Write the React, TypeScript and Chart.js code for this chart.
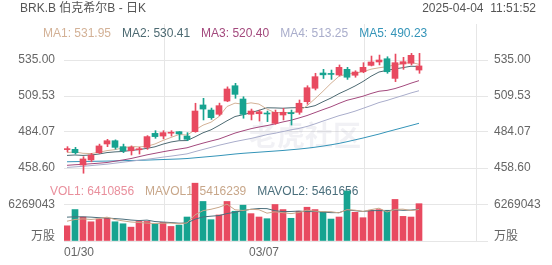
import React, { useEffect, useRef } from 'react';
import { Chart, registerables } from 'chart.js';

Chart.register(...registerables);

// ---------- data ----------
const dates = ['01/30','01/31','02/03','02/04','02/05','02/06','02/07','02/10','02/11','02/12',
  '02/13','02/14','02/18','02/19','02/20','02/21','02/24','02/25','02/26','02/27',
  '02/28','03/03','03/04','03/05','03/06','03/07','03/10','03/11','03/12','03/13',
  '03/14','03/17','03/18','03/19','03/20','03/21','03/24','03/25','03/26','03/27',
  '03/28','03/31','04/01','04/02','04/03'];

const opens = [471.6,471.8,460.7,464.3,469.4,475.6,477.9,473.7,470.8,471.5,
  473.2,483.1,481.2,483.2,484.3,481.2,484.3,503.2,499.6,496.6,
  506.0,516.8,507.4,496.6,497.0,497.5,490.2,496.1,497.8,498.0,
  505.5,515.0,525.8,525.3,524.4,528.4,524.2,526.7,531.2,533.6,
  535.9,522.0,532.2,532.7,527.9];
const closes = [471.9,469.4,465.0,467.8,474.2,477.9,473.2,470.8,473.2,472.2,
  480.8,480.8,483.6,483.6,482.7,478.9,498.9,500.3,494.2,502.7,
  514.5,510.7,496.6,498.9,498.4,496.8,498.0,498.0,497.0,504.4,
  515.4,523.2,524.5,524.8,529.8,522.8,526.5,529.8,533.6,535.0,
  526.7,533.1,533.8,538.3,530.8];
const highs = [473.7,473.2,466.6,469.0,475.5,478.9,478.5,475.5,474.2,473.3,
  481.5,485.0,485.0,485.0,484.4,483.6,504.4,507.9,501.0,504.5,
  516.0,518.5,509.0,500.3,499.6,498.9,499.6,500.8,499.6,506.7,
  516.8,525.6,528.4,527.9,531.5,529.8,527.4,533.1,537.8,538.5,
  537.3,539.2,536.9,539.7,539.7];
const lows = [470.0,468.5,454.9,463.0,468.8,473.7,472.0,469.5,467.8,468.5,
  471.8,479.6,479.2,481.2,478.7,477.9,483.9,492.6,493.0,495.5,
  505.5,507.9,493.8,492.6,491.8,491.4,489.5,492.6,489.0,496.6,
  503.7,513.8,521.9,521.3,523.7,521.3,522.8,526.0,530.8,531.5,
  525.6,519.7,528.4,531.5,525.6];

const ma1 = [469.5,470.0,469.0,468.8,469.7,470.9,471.6,472.8,473.9,473.5,
  474.0,475.6,478.1,480.2,482.3,481.9,485.5,488.9,491.0,495.0,
  502.1,504.5,503.7,504.7,503.8,500.3,497.7,498.0,497.6,498.8,
  502.6,507.6,512.9,518.5,523.5,525.0,525.7,526.7,528.5,529.5,
  530.3,531.6,532.4,533.4,531.95];
const ma2 = [467.5,467.8,467.5,467.8,468.5,469.5,470.0,470.3,471.0,471.6,
  472.5,473.6,475.5,477.0,477.9,478.0,480.6,483.5,485.6,488.7,
  492.0,495.0,496.3,497.8,499.4,501.2,501.1,500.9,501.2,501.3,
  501.4,502.7,505.5,508.1,511.2,513.8,516.6,519.8,523.5,526.5,
  527.7,528.7,529.6,530.6,530.41];
const ma3 = [460.5,460.9,461.2,461.6,462.0,462.5,463.4,464.3,465.3,466.6,
  467.9,469.0,470.1,471.1,472.0,472.9,474.6,476.2,477.7,479.1,
  481.2,483.3,484.9,486.4,487.6,488.6,489.8,491.2,492.4,494.0,
  495.7,497.8,499.9,501.9,504.3,506.5,507.9,509.4,511.3,512.9,
  513.5,514.8,516.6,518.6,520.40];
const ma4 = [459.0,459.4,459.8,460.3,460.8,461.3,462.0,462.7,463.4,464.1,
  464.8,465.5,466.3,467.0,467.8,468.6,470.2,471.7,473.2,474.7,
  476.0,477.3,478.4,479.5,480.8,482.2,483.2,484.4,485.6,486.6,
  488.0,489.8,491.8,493.7,495.6,497.1,498.8,500.8,502.8,504.9,
  506.4,508.2,509.9,511.7,513.25];
const ma5 = [463.0,463.1,463.2,463.3,463.4,463.5,463.6,463.8,463.9,464.0,
  464.2,464.4,464.6,464.8,465.0,465.3,465.8,466.3,466.8,467.3,
  467.9,468.5,469.0,469.4,469.8,470.2,470.6,471.0,471.5,472.0,
  472.6,473.3,474.1,475.0,476.0,477.2,478.5,479.8,481.2,482.6,
  484.2,485.7,487.2,488.7,490.23];

const volumes = [2610000,5400000,4120000,3300000,3770000,3900000,3300000,2960000,2380000,3360000,
  3360000,2960000,3190000,2500000,2730000,4120000,9930000,6790000,3660000,4470000,
  6790000,5110000,6150000,4700000,4120000,3830000,6270000,5400000,3900000,5110000,
  5800000,5400000,5050000,3770000,4120000,8590000,4930000,4000000,5280000,5400000,
  5280000,7140000,4230000,4120000,6410856];
const mavol1 = [3400000,3700000,3800000,3700000,3840000,4100000,3680000,3450000,3260000,3180000,
  3070000,3000000,3050000,3070000,2950000,3100000,4490000,5210000,5450000,5790000,
  6330000,5360000,5240000,5440000,5370000,4780000,5010000,4860000,4700000,4900000,
  5300000,5120000,5050000,5030000,4830000,5390000,5290000,5080000,5380000,5640000,
  4980000,5420000,5470000,5230000,5416239];
const mavol2 = [4100000,4150000,4150000,4100000,4000000,3950000,3850000,3750000,3600000,3510000,
  3590000,3340000,3250000,3170000,3060000,3090000,3750000,4130000,4260000,4370000,
  4710000,4930000,5230000,5450000,5580000,5560000,5190000,5050000,5070000,5140000,
  5040000,5070000,4960000,4870000,4870000,5340000,5210000,5070000,5210000,5230000,
  5180000,5360000,5270000,5310000,5461656];

const priceTicks = [458.60, 484.07, 509.53, 535.00, 560.47];
const priceTickLabels = ['458.60', '484.07', '509.53', '535.00', ''];
const volTicks = [0, 750000, 6269043, 12538086];
const volTickLabels = ['', '万股', '6269043', ''];
const slotCount = 53;
const xGridSlots = [0, 25, 50, 53];
const xTickLabels = [dates[0], dates[25], '', ''];

const titleText = 'BRK.B 伯克希尔B - 日K';
const timeText = '2025-04-04  11:51:52';

// ---------- styles ----------
const FONT = '"Liberation Sans", Arial, "Noto Sans CJK SC", sans-serif';
const RED = '#e84a60';
const TEAL = '#17a390';
const GRID = '#e6e6e6';
const LABEL = '#666666';
const maStyles = [
  { name: 'MA1', data: ma1, color: '#d3b196' },
  { name: 'MA2', data: ma2, color: '#4d6a72' },
  { name: 'MA3', data: ma3, color: '#a3497d' },
  { name: 'MA4', data: ma4, color: '#a9adcb' },
  { name: 'MA5', data: ma5, color: '#3494b8' },
];
const volLegend = [
  { text: 'VOL1: ' + volumes[volumes.length - 1], color: '#e98f9c' },
  { text: 'MAVOL1: ' + mavol1[mavol1.length - 1], color: '#c8a78a' },
  { text: 'MAVOL2: ' + mavol2[mavol2.length - 1], color: '#4b6f7c' },
];

const xOf = (i: number) => i + 0.375;
const candleColors = closes.map((c, i) => (c >= opens[i] ? RED : TEAL));

export default function App() {
  const refA = useRef<HTMLCanvasElement>(null);
  const refB = useRef<HTMLCanvasElement>(null);

  useEffect(() => {
    const xScale = (showLabels: boolean, height: number) => ({
      type: 'linear' as const,
      min: 0,
      max: slotCount,
      offset: false,
      afterBuildTicks: (s: any) => { s.ticks = xGridSlots.map((v) => ({ value: v })); },
      afterFit: (s: any) => { s.height = height; },
      ticks: {
        display: showLabels,
        callback: (_v: any, idx: number) => xTickLabels[idx],
        align: 'inner' as const,
        padding: 4,
        autoSkip: false,
        maxRotation: 0,
        color: LABEL,
        font: { family: FONT, size: 12 },
      },
      grid: { color: GRID, drawTicks: false },
      border: { display: false },
    });

    const yScale = (pos: 'left' | 'right', min: number, max: number, ticks: number[], labels: string[], gridColors: string[] | null) => ({
      type: 'linear' as const,
      position: pos,
      min,
      max,
      afterBuildTicks: (s: any) => { s.ticks = ticks.map((v) => ({ value: v })); },
      afterFit: (s: any) => { s.width = 64; },
      ticks: {
        callback: (_v: any, idx: number) => labels[idx],
        padding: pos === 'left' ? 9 : 6,
        color: LABEL,
        autoSkip: false,
        font: { family: FONT, size: 12 },
      },
      grid: gridColors
        ? { color: (ctx: any) => gridColors[ctx.index] || 'rgba(0,0,0,0)', drawTicks: false }
        : { display: false, drawTicks: false },
      border: { display: false },
    });

    const textA = {
      id: 'textA',
      beforeDatasetsDraw(chart: any) {
        const ctx = chart.ctx;
        ctx.save();
        ctx.font = 'bold 28px "Noto Sans CJK SC"';
        ctx.fillStyle = 'rgba(150,150,175,0.13)';
        ctx.textBaseline = 'middle';
        ctx.textAlign = 'left';
        ctx.fillText('老虎社区', 249, 135);
        ctx.restore();
      },
      afterDraw(chart: any) {
        const ctx = chart.ctx;
        ctx.save();
        ctx.font = '12px ' + FONT;
        ctx.textBaseline = 'middle';
        ctx.fillStyle = '#555555';
        ctx.textAlign = 'left';
        ctx.fillText(titleText, 20, 9);
        ctx.textAlign = 'right';
        ctx.fillText(timeText, 536, 8.5);
        ctx.textAlign = 'left';
        let x = 43;
        maStyles.forEach((m) => {
          const t = `${m.name}: ${m.data[m.data.length - 1].toFixed(2)}`;
          ctx.fillStyle = m.color;
          ctx.fillText(t, x, 33.5);
          x += ctx.measureText(t).width + 11;
        });
        ctx.restore();
      },
    };

    const textB = {
      id: 'textB',
      beforeDatasetsDraw(chart: any) {
        const ctx = chart.ctx;
        ctx.save();
        ctx.font = '12px ' + FONT;
        ctx.textBaseline = 'middle';
        ctx.textAlign = 'left';
        let x = 50;
        volLegend.forEach((l) => {
          ctx.fillStyle = l.color;
          ctx.fillText(l.text, x, 41.7);
          x += ctx.measureText(l.text).width + 11;
        });
        ctx.restore();
      },
    };

    const chartA = new Chart(refA.current as HTMLCanvasElement, {
      type: 'bar',
      data: {
        datasets: [
          ...maStyles.map((m) => ({
            type: 'line' as const,
            data: m.data.map((v, i) => ({ x: xOf(i), y: v })),
            borderColor: m.color,
            borderWidth: 1,
            pointRadius: 0,
            fill: false,
            tension: 0,
            order: 3,
            yAxisID: 'y',
          })),
          {
            type: 'bar' as const,
            data: lows.map((l, i) => ({ x: xOf(i) + 0.0625, y: [l, highs[i]] })),
            backgroundColor: candleColors,
            barThickness: 1,
            grouped: false,
            order: 2,
            clip: false,
            yAxisID: 'y',
          },
          {
            type: 'bar' as const,
            data: opens.map((o, i) => ({ x: xOf(i), y: [Math.min(o, closes[i]), Math.max(o, closes[i])] })),
            backgroundColor: candleColors,
            barThickness: 6,
            minBarLength: 1,
            grouped: false,
            order: 1,
            yAxisID: 'y',
          },
        ] as any,
      },
      options: {
        responsive: false,
        animation: false,
        devicePixelRatio: 1,
        layout: { padding: { top: 24, bottom: 17, left: 0, right: 0 } },
        plugins: { legend: { display: false }, tooltip: { enabled: false }, title: { display: false } },
        scales: {
          x: xScale(false, 0),
          y: yScale('left', priceTicks[0], priceTicks[4], priceTicks, priceTickLabels, [GRID, GRID, GRID, GRID, 'rgba(0,0,0,0)']),
          yR: yScale('right', priceTicks[0], priceTicks[4], priceTicks, priceTickLabels, null),
        } as any,
      },
      plugins: [textA],
    });

    const volColors = volumes.map((_v, i) => candleColors[i]);
    const chartB = new Chart(refB.current as HTMLCanvasElement, {
      type: 'bar',
      data: {
        datasets: [
          {
            type: 'line' as const,
            data: mavol1.map((v, i) => ({ x: xOf(i), y: v })),
            borderColor: '#c8a78a',
            borderWidth: 1,
            pointRadius: 0,
            tension: 0,
            order: 1,
            yAxisID: 'y',
          },
          {
            type: 'line' as const,
            data: mavol2.map((v, i) => ({ x: xOf(i), y: v })),
            borderColor: '#4b6f7c',
            borderWidth: 1,
            pointRadius: 0,
            tension: 0,
            order: 1,
            yAxisID: 'y',
          },
          {
            type: 'bar' as const,
            data: volumes.map((v, i) => ({ x: xOf(i), y: v })),
            backgroundColor: volColors,
            barThickness: 6,
            grouped: false,
            order: 2,
            yAxisID: 'y',
          },
        ] as any,
      },
      options: {
        responsive: false,
        animation: false,
        devicePixelRatio: 1,
        layout: { padding: { top: 18, bottom: 0, left: 0, right: 0 } },
        plugins: { legend: { display: false }, tooltip: { enabled: false }, title: { display: false } },
        scales: {
          x: xScale(true, 24),
          y: yScale('left', volTicks[0], volTicks[3], volTicks, volTickLabels, [GRID, 'rgba(0,0,0,0)', GRID, 'rgba(0,0,0,0)']),
          yR: yScale('right', volTicks[0], volTicks[3], volTicks, volTickLabels, null),
        } as any,
      },
      plugins: [textB],
    });

    return () => {
      chartA.destroy();
      chartB.destroy();
    };
  }, []);

  return (
    <div style={{ position: 'fixed', left: 0, top: 0, width: 552, height: 265, background: '#ffffff', overflow: 'hidden' }}>
      <canvas ref={refA} width={552} height={185} style={{ position: 'absolute', left: 0, top: 0 }} />
      <canvas ref={refB} width={552} height={115} style={{ position: 'absolute', left: 0, top: 150 }} />
    </div>
  );
}
